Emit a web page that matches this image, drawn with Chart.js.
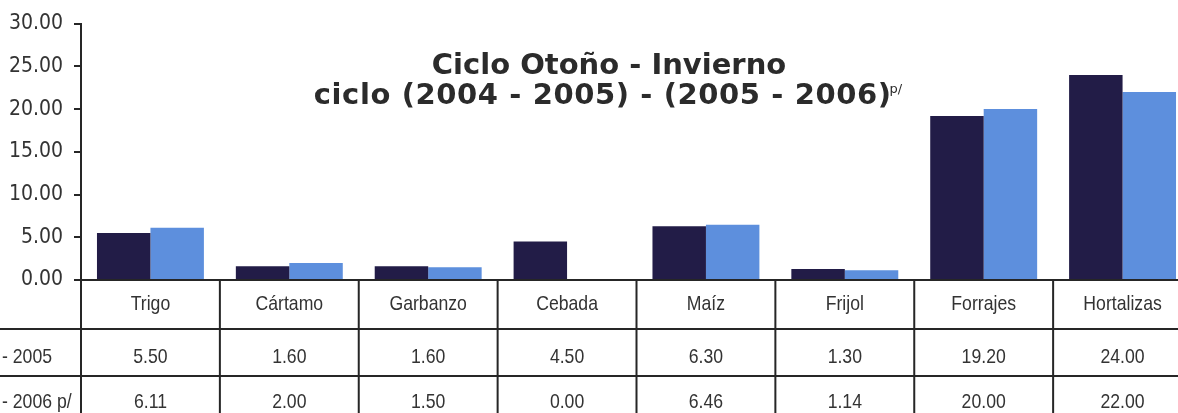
<!DOCTYPE html>
<html lang="es">
<head>
  <meta charset="UTF-8" />
  <title>Ciclo Otoño - Invierno</title>
  <script src="https://cdn.jsdelivr.net/npm/chart.js"></script>
  <style>
    html, body { margin: 0; padding: 0; background: #fff; overflow: hidden; }
    #wrap { position: absolute; left: 0; top: 0; width: 1200px; height: 413px; }
  </style>
</head>
<body>
  <div id="wrap"><canvas id="chart" width="1200" height="413"></canvas></div>

  <script>
    // data
    const categories = ['Trigo', 'Cártamo', 'Garbanzo', 'Cebada', 'Maíz', 'Frijol', 'Forrajes', 'Hortalizas'];
    const seriesNames = ['2004 - 2005', '2005 - 2006 p/'];
    const values0405 = [5.50, 1.60, 1.60, 4.50, 6.30, 1.30, 19.20, 24.00];
    const values0506 = [6.11, 2.00, 1.50, 0.00, 6.46, 1.14, 20.00, 22.00];
    const yTicks = [0, 5, 10, 15, 20, 25, 30];
    const titleLines = ['Ciclo Otoño - Invierno', 'ciclo (2004 - 2005) - (2005 - 2006)'];
    const titleSup = 'p/';

    const lineColor = '#262626';
    const textColor = '#333';
    const tableFont = '21px "Liberation Sans", Arial, sans-serif';
    const narrow = 0.84; // squeeze to look like Arial Narrow

    function narrowText(ctx, text, x, y, align) {
      ctx.save();
      ctx.translate(x, y);
      ctx.scale(narrow, 1);
      ctx.textAlign = align;
      ctx.fillText(text, 0, 0);
      ctx.restore();
    }

    // data table under the plot, drawn from the x scale
    const tablePlugin = {
      id: 'dataTable',
      afterDraw(chart) {
        const ctx = chart.ctx;
        const area = chart.chartArea;
        const x = chart.scales.x;
        const w = x.width / categories.length;
        const top = area.bottom;
        const rows = [top + 49, top + 96, top + 144];

        ctx.save();
        ctx.strokeStyle = lineColor;
        ctx.lineWidth = 2;
        ctx.beginPath();
        ctx.moveTo(area.left, top);
        ctx.lineTo(area.right, top);
        rows.forEach(y => { ctx.moveTo(0, y); ctx.lineTo(area.right, y); });
        for (let i = 0; i <= categories.length; i++) {
          const px = x.getPixelForValue(0) - w / 2 + i * w;
          ctx.moveTo(px, top);
          ctx.lineTo(px, rows[2]);
        }
        ctx.stroke();

        ctx.fillStyle = textColor;
        ctx.font = tableFont;
        ctx.textBaseline = 'middle';
        categories.forEach((c, i) => {
          const cx = x.getPixelForValue(i);
          narrowText(ctx, c, cx, top + 24, 'center');
          narrowText(ctx, values0405[i].toFixed(2), cx, top + 77, 'center');
          narrowText(ctx, values0506[i].toFixed(2), cx, top + 122, 'center');
        });
        const start = area.left - 29 - ctx.measureText(seriesNames[0]).width * narrow;
        narrowText(ctx, seriesNames[0], start, top + 77, 'left');
        narrowText(ctx, seriesNames[1], start, top + 122, 'left');
        ctx.restore();
      }
    };

    const titlePlugin = {
      id: 'titleText',
      afterDraw(chart) {
        const ctx = chart.ctx;
        const cx = 609;
        const bold = 'bold 29px "DejaVu Sans", sans-serif';
        const small = '13px "DejaVu Sans", sans-serif';
        ctx.save();
        ctx.fillStyle = '#2b2b2b';
        ctx.textBaseline = 'alphabetic';
        ctx.textAlign = 'center';
        ctx.font = bold;
        ctx.fillText(titleLines[0], cx, 74);

        ctx.letterSpacing = '0.6px';
        const w2 = ctx.measureText(titleLines[1]).width;
        ctx.font = small;
        ctx.letterSpacing = '0px';
        const ws = ctx.measureText(titleSup).width;
        const start = cx - (w2 + ws) / 2;
        ctx.textAlign = 'left';
        ctx.font = bold;
        ctx.letterSpacing = '0.6px';
        ctx.fillText(titleLines[1], start, 104);
        ctx.letterSpacing = '0px';
        ctx.font = small;
        ctx.fillText(titleSup, start + w2 - 2, 93);
        ctx.restore();
      }
    };

    new Chart(document.getElementById('chart'), {
      type: 'bar',
      data: {
        labels: categories,
        datasets: [
          { label: seriesNames[0], data: values0405, backgroundColor: '#221c47' },
          { label: seriesNames[1], data: values0506, backgroundColor: '#5d8fdd' }
        ]
      },
      options: {
        responsive: false,
        animation: false,
        layout: { padding: { top: 22, right: 8, bottom: 133, left: 0 } },
        plugins: { legend: { display: false }, tooltip: { enabled: false } },
        datasets: { bar: { categoryPercentage: 0.77, barPercentage: 1.0 } },
        scales: {
          x: { display: false },
          y: {
            min: 0,
            max: 30,
            afterBuildTicks: s => { s.ticks = yTicks.map(v => ({ value: v })); },
            afterFit: s => { s.width = 81; },
            border: { display: true, color: lineColor, width: 2 },
            grid: { drawOnChartArea: false, drawTicks: true, tickLength: 7, color: lineColor, lineWidth: 2 },
            ticks: {
              padding: 11,
              color: textColor,
              font: { family: '"DejaVu Sans Condensed", "DejaVu Sans", sans-serif', size: 21 },
              callback: v => Number(v).toFixed(2)
            }
          }
        }
      },
      plugins: [tablePlugin, titlePlugin]
    });
  </script>
</body>
</html>
